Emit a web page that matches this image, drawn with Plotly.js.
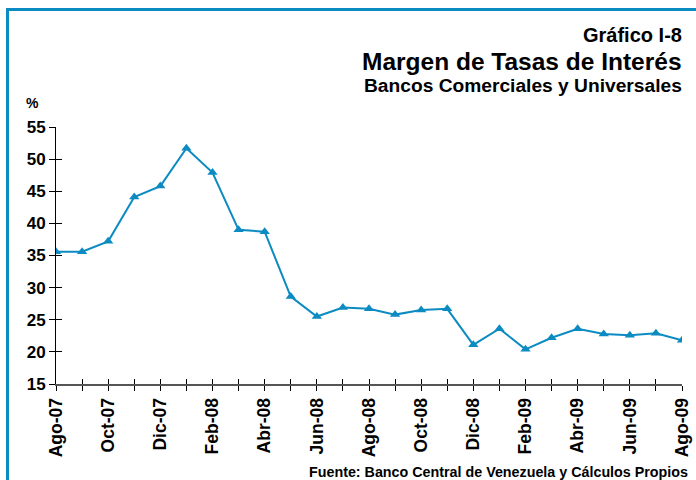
<!DOCTYPE html>
<html>
<head>
<meta charset="utf-8">
<script src="https://cdn.plot.ly/plotly-3.0.1.min.js"></script>
<style>
html,body{margin:0;padding:0;background:#fff;}
#wrap{position:relative;width:696px;height:480px;overflow:hidden;}
#chart{width:696px;height:480px;}
#frame{position:absolute;left:6px;top:8px;width:700px;height:480px;border-left:3px solid #0B8BC2;border-top:3px solid #0B8BC2;pointer-events:none;}
</style>
</head>
<body>
<div id="wrap"><div id="chart"></div><div id="frame"></div></div>
<script>
var months = ["Ago-07","Sep-07","Oct-07","Nov-07","Dic-07","Ene-08","Feb-08","Mar-08","Abr-08","May-08","Jun-08","Jul-08",
              "Ago-08","Sep-08","Oct-08","Nov-08","Dic-08","Ene-09","Feb-09","Mar-09","Abr-09","May-09","Jun-09","Jul-09","Ago-09"];
var margen = [35.6,35.6,37.2,44.1,45.8,51.7,47.9,39.0,38.7,28.6,25.5,26.9,
              26.7,25.8,26.5,26.7,21.1,23.6,20.4,22.2,23.6,22.8,22.6,22.9,21.8];
var tickLabels = months.map(function(m,i){return i%2===0 ? m : "";});
var yTicks = [15,20,25,30,35,40,45,50,55];

var blue = "#0B8BC2";
var font = "Liberation Sans, Arial, sans-serif";

var trace = {
  x: months, y: margen, type: "scatter", mode: "lines+markers",
  line: {color: blue, width: 2},
  marker: {symbol: "triangle-up", size: 9, color: blue},
  hoverinfo: "x+y", showlegend: false
};
var ghost = {x: months, y: margen, xaxis: "x2", yaxis: "y2", type: "scatter", mode: "none", hoverinfo: "skip", showlegend: false};

var layout = {
  width: 696, height: 480,
  margin: {l: 56, r: 14, t: 127, b: 96},
  paper_bgcolor: "#fff", plot_bgcolor: "#fff",
  font: {family: font, color: "#000"},
  xaxis: {
    type: "category", range: [0, 24], tickmode: "array", tickvals: months, ticktext: tickLabels,
    tickangle: -90, ticks: "outside", ticklen: 5, tickcolor: "#000", tickwidth: 1,
    showline: true, linecolor: "#555", linewidth: 2, showgrid: false, zeroline: false,
    tickfont: {family: font, size: 17.5, color: "#000", weight: "bold"}
  },
  yaxis: {
    range: [15, 55], tickmode: "array", tickvals: yTicks, ticks: "outside", ticklen: 6, tickcolor: "#000",
    showline: true, linecolor: "#000", linewidth: 1, showgrid: false, zeroline: false,
    tickfont: {family: font, size: 17, color: "#000", weight: "bold"}
  },
  xaxis2: {
    type: "category", overlaying: "x", range: [0, 24], tickmode: "array", tickvals: months, ticktext: months.map(function(){return "";}),
    ticks: "inside", ticklen: 5, tickcolor: "#000", showline: false, showgrid: false, zeroline: false, side: "bottom", anchor: "y2"
  },
  yaxis2: {
    overlaying: "y", range: [15, 55], tickmode: "array", tickvals: yTicks, ticktext: yTicks.map(function(){return "";}),
    ticks: "inside", ticklen: 6, tickcolor: "#000", showline: false, showgrid: false, zeroline: false, side: "left", anchor: "x2"
  },
  annotations: [
    {text: "Gráfico I-8", xref: "paper", yref: "paper", x: 1, y: 1, xanchor: "right", yanchor: "middle",
     xshift: 2, yshift: 92, showarrow: false, font: {family: font, size: 20, weight: "bold", color: "#000"}},
    {text: "Margen de Tasas de Interés", xref: "paper", yref: "paper", x: 1, y: 1, xanchor: "right", yanchor: "middle",
     xshift: 2, yshift: 66, showarrow: false, font: {family: font, size: 24.5, weight: "bold", color: "#000"}},
    {text: "Bancos Comerciales y Universales", xref: "paper", yref: "paper", x: 1, y: 1, xanchor: "right", yanchor: "middle",
     xshift: 2, yshift: 42, showarrow: false, font: {family: font, size: 19.2, weight: "bold", color: "#000"}},
    {text: "%", xref: "paper", yref: "paper", x: 0, y: 1, xanchor: "left", yanchor: "middle",
     xshift: -32, yshift: 24, showarrow: false, font: {family: font, size: 14, weight: "bold", color: "#000"}},
    {text: "Fuente: Banco Central de Venezuela y Cálculos Propios", xref: "paper", yref: "paper", x: 1, y: 0, xanchor: "right", yanchor: "middle",
     xshift: 8, yshift: -88, showarrow: false, font: {family: font, size: 14.3, weight: "bold", color: "#000"}}
  ]
};

Plotly.newPlot("chart", [trace, ghost], layout, {displayModeBar: false, staticPlot: true});
</script>
</body>
</html>
